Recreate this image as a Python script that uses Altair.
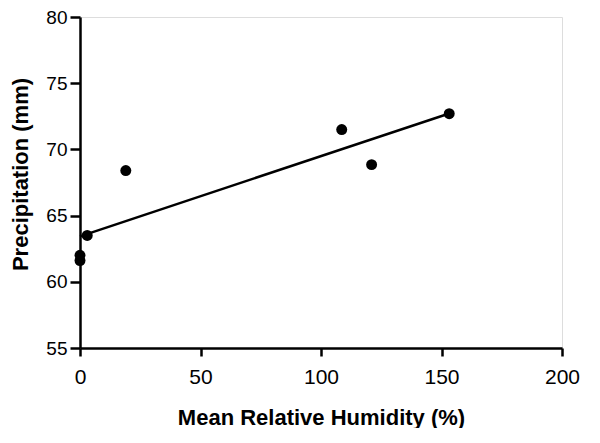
import altair as alt
import pandas as pd

humidity = [0, 0, 3, 19, 108.6, 121, 153.2]
precip = [62.0, 61.6, 63.5, 68.4, 71.5, 68.85, 72.7]

df = pd.DataFrame({"humidity": humidity, "precip": precip})

x_ticks = [0, 50, 100, 150, 200]
y_ticks = [55, 60, 65, 70, 75, 80]

FONT = "Liberation Sans"

x = alt.X("humidity:Q", scale=alt.Scale(domain=[0, 200], nice=False, zero=False),
          axis=alt.Axis(title="Mean Relative Humidity (%)", values=x_ticks, grid=False,
                        domainColor="black", domainWidth=2.5, tickColor="black", tickWidth=2.5,
                        tickSize=8, labelFontSize=21, labelFont=FONT, labelColor="black",
                        labelPadding=10, titleFont=FONT, titleFontSize=22, titleFontWeight="bold",
                        titleColor="black", titlePadding=20, labelFlush=False))
y = alt.Y("precip:Q", scale=alt.Scale(domain=[55, 80], nice=False, zero=False),
          axis=alt.Axis(title="Precipitation (mm)", values=y_ticks, grid=False,
                        domainColor="black", domainWidth=2.5, tickColor="black", tickWidth=2.5,
                        tickSize=10, labelFontSize=19, labelFont=FONT, labelColor="black",
                        labelPadding=3, titleFont=FONT, titleFontSize=22, titleFontWeight="bold",
                        titleColor="black", titlePadding=13, titleY=157, labelFlush=False))

points = alt.Chart(df).mark_circle(size=120, color="black", opacity=1).encode(x=x, y=y)

fit = alt.Chart(df).transform_regression("humidity", "precip").mark_line(
    color="black", strokeWidth=2.5).encode(x=x, y=y)

chart = (fit + points).properties(
    width=482, height=331,
    autosize=alt.AutoSizeParams(type="none"),
    padding={"left": 72, "top": 9, "right": 30, "bottom": 80},
).configure_view(stroke=None).configure(background="white")

chart.save("out.html", embed_options={"renderer": "svg", "actions": False})
